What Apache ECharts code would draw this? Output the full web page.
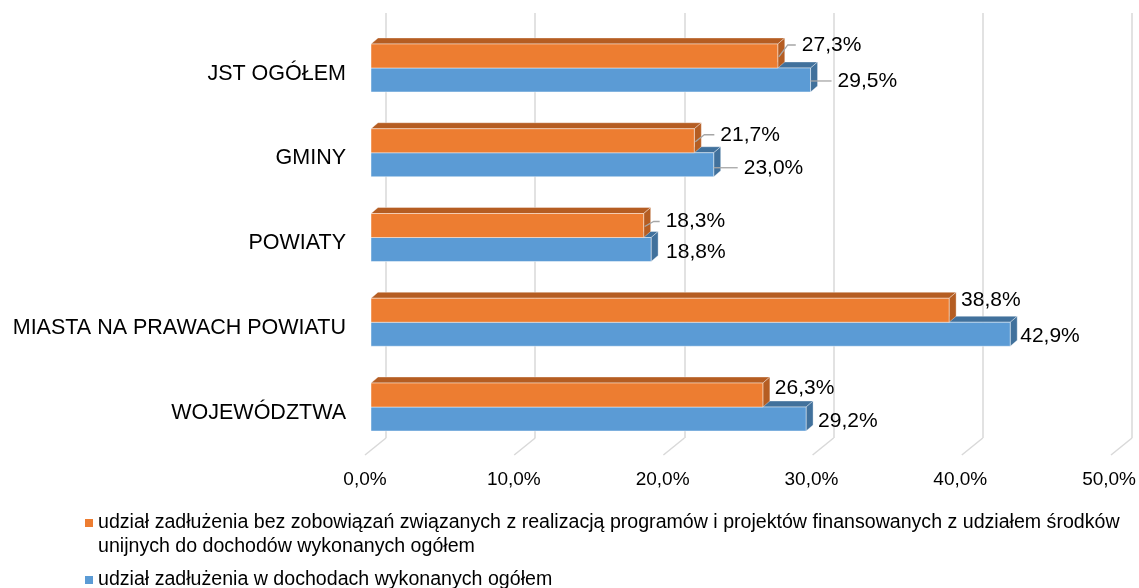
<!DOCTYPE html>
<html>
<head>
<meta charset="utf-8">
<script src="https://cdn.jsdelivr.net/npm/echarts@6.0.0/dist/echarts.min.js"></script>
<style>
	html,body{margin:0;padding:0;background:#fff;}
	#main{width:1139px;height:588px;}
</style>
</head>
<body>
<div id="main"></div>
<script>
	// dane
	var categories = ['JST OGÓŁEM', 'GMINY', 'POWIATY', 'MIASTA NA PRAWACH POWIATU', 'WOJEWÓDZTWA'];
	var orangeValues = [27.3, 21.7, 18.3, 38.8, 26.3];
	var blueValues = [29.5, 23.0, 18.8, 42.9, 29.2];
	var tickValues = [0, 10, 20, 30, 40, 50];
	var orangeName = 'udział zadłużenia bez zobowiązań związanych z realizacją programów i projektów finansowanych z udziałem środków unijnych do dochodów wykonanych ogółem';
	var blueName = 'udział zadłużenia w dochodach wykonanych ogółem';

	// przesunięcia etykiet (jak w oryginale, przeciągnięte ręcznie)
	var orangeLabelShift = [[24, -11], [26, -6], [22, -4], [12, -10], [12, -7]];
	var blueLabelShift = [[27, 1], [30, 3], [15, 3], [10, 2], [12, 2]];

	var FONT = '"Liberation Sans", Arial, sans-serif';
	var BAR_H = 24, DX = 7, DY = -6;

	function fmt(v){
		return v.toFixed(1).replace('.', ',') + '%';
	}

	function bar3d(front, dark, upper, shifts){
		return function(params, api){
			var cat = api.value(1);
			var val = api.value(0);
			var end = api.coord([val, cat]);
			var start = api.coord([0, cat]);
			var yc = end[1];
			var y0 = upper ? yc - BAR_H : yc;
			var y1 = y0 + BAR_H;
			var x0 = start[0], x1 = end[0];
			var sh = shifts[params.dataIndex];
			var ly = (y0 + y1) / 2 + sh[1];
			var children = [
				{type:'polygon', shape:{points:[[x0,y0],[x0+DX,y0+DY],[x1+DX,y0+DY],[x1,y0]]},
					style:{fill:dark, stroke:'rgba(255,255,255,0.35)', lineWidth:1}},
				{type:'polygon', shape:{points:[[x1,y0],[x1+DX,y0+DY],[x1+DX,y1+DY],[x1,y1]]},
					style:{fill:dark, stroke:'rgba(255,255,255,0.35)', lineWidth:1}},
				{type:'rect', shape:{x:x0, y:y0, width:x1-x0, height:BAR_H},
					style:{fill:front, stroke:'rgba(255,255,255,0.45)', lineWidth:1}}
			];
			if (sh[0] > 16) {
				var pts = upper
					? [[x1+1, (y0+y1)/2+1], [x1+10, ly], [x1+sh[0]-6, ly]]
					: [[x1, ly], [x1+sh[0]-6, ly]];
				children.push({type:'polyline', shape:{points:pts},
					style:{stroke:'#A6A6A6', lineWidth:1.3, fill:null}});
			}
			children.push({type:'text', style:{
				x:x1+sh[0], y:ly, text:fmt(val), fill:'#000',
				font:'21px ' + FONT, align:'left', verticalAlign:'middle'}});
			return {type:'group', children:children};
		};
	}

	var myChart = echarts.init(document.getElementById('main'));
	var option = {
		animation:false,
		backgroundColor:'#fff',
		textStyle:{fontFamily:FONT},
		grid:[
			{left:371, right:23, top:25.6, bottom:138.6},   // słupki
			{left:386, right:7, top:13, bottom:150},         // tylna ściana - linie siatki
			{left:365, right:29, top:31.5, bottom:133}       // opisy osi
		],
		xAxis:[
			{gridIndex:0, type:'value', min:0, max:50, show:false},
			{gridIndex:1, type:'value', min:0, max:50, interval:10,
				axisLine:{show:false}, axisTick:{show:false}, axisLabel:{show:false},
				splitLine:{show:true, lineStyle:{color:'#D9D9D9', width:1.5}}},
			{gridIndex:2, type:'value', min:0, max:50, interval:10,
				axisLine:{show:false}, axisTick:{show:false}, splitLine:{show:false},
				axisLabel:{margin:15, color:'#000', fontSize:19, fontFamily:FONT,
					formatter:function(v){ return fmt(v); }}}
		],
		yAxis:[
			{gridIndex:0, type:'category', inverse:true, data:categories, show:false},
			{gridIndex:1, type:'value', min:0, max:1, show:false},
			{gridIndex:2, type:'category', inverse:true, data:categories,
				axisLine:{show:false}, axisTick:{show:false}, splitLine:{show:false},
				axisLabel:{margin:19, color:'#000', fontSize:21.5, fontFamily:FONT}}
		],
		legend:[
			{left:85, top:487, padding:0, itemWidth:8, itemHeight:8, icon:'rect', selectedMode:false,
				data:[orangeName],
				// pusta linia u góry, żeby ikona wypadła przy pierwszym wierszu
				formatter:function(n){ return ' \n' + n.replace(' unijnych', '\nunijnych'); },
				textStyle:{fontSize:19.6, lineHeight:24, color:'#000', fontFamily:FONT}},
			{left:85, top:568, padding:0, itemWidth:8, itemHeight:8, icon:'rect', selectedMode:false,
				data:[blueName],
				textStyle:{fontSize:19.6, lineHeight:24, color:'#000', fontFamily:FONT}}
		],
		series:[
			{
				// ukośne linie podłogi
				type:'custom', xAxisIndex:1, yAxisIndex:1, silent:true,
				data:tickValues.map(function(v){ return [v, 0]; }),
				renderItem:function(params, api){
					var p = api.coord([api.value(0), 0]);
					return {type:'line', shape:{x1:p[0], y1:p[1], x2:p[0]-21, y2:p[1]+17},
						style:{stroke:'#D9D9D9', lineWidth:1.5}};
				}
			},
			{
				name:blueName, type:'custom', xAxisIndex:0, yAxisIndex:0,
				itemStyle:{color:'#5B9BD5'},
				data:blueValues.map(function(v, i){ return [v, i]; }),
				renderItem:bar3d('#5B9BD5', '#41719C', false, blueLabelShift)
			},
			{
				name:orangeName, type:'custom', xAxisIndex:0, yAxisIndex:0,
				itemStyle:{color:'#ED7D31'},
				data:orangeValues.map(function(v, i){ return [v, i]; }),
				renderItem:bar3d('#ED7D31', '#B55D22', true, orangeLabelShift)
			}
		]
	};
	myChart.setOption(option);
</script>
</body>
</html>
